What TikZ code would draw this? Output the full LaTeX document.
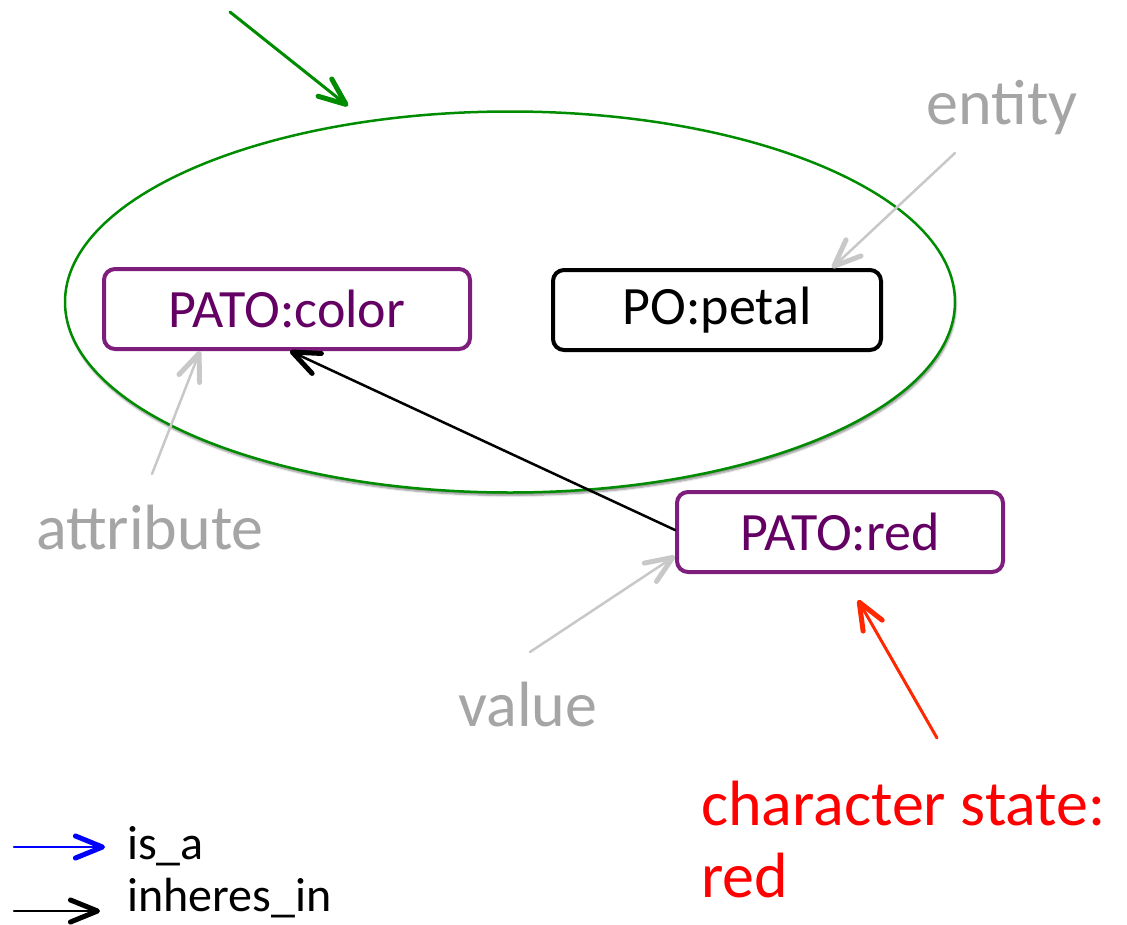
\documentclass[tikz,border=0pt]{standalone}
\usepackage{fontspec}
\setmainfont{Carlito}
\usetikzlibrary{arrows.meta,shadows.blur,shapes.geometric}
\definecolor{boxpurple}{RGB}{125,30,125}
\definecolor{txtpurple}{RGB}{100,0,100}
\definecolor{labgray}{RGB}{165,165,165}
\definecolor{arrgray}{RGB}{200,200,200}
\definecolor{ovalgreen}{RGB}{0,140,0}
\definecolor{redarrow}{RGB}{255,40,0}
\tikzset{
  term/.style={draw, line width=4pt, rounded corners=11pt, minimum height=80pt, font=\fontsize{54}{58}\selectfont, inner sep=0pt},
  pterm/.style={term, draw=boxpurple, text=txtpurple},
  role/.style={text=labgray, font=\fontsize{64}{70}\selectfont, inner sep=0pt},
  pointer/.style={line width=2.5pt, line cap=round, -{Straight Barb[length=27pt,width=22pt,line width=5pt,round]}},
}
\begin{document}
\begin{tikzpicture}[x=1pt,y=-1pt]
\useasboundingbox (0,0) rectangle (1127,924);
% grouping oval
\node (oval) [ellipse, draw=ovalgreen, line width=2.5pt, minimum width=890pt, minimum height=381pt, inner sep=0pt,
  blur shadow={shadow xshift=1pt, shadow yshift=-3pt, shadow blur steps=6, shadow opacity=45}, fill=white] at (510,302) {};
% terms
\node (color) [pterm, minimum width=366pt] at (287,309) {PATO:color};
\node (petal) [term, minimum width=328pt] at (717,310) {PO:petal};
\node (red) [pterm, minimum width=326pt] at (840,532) {PATO:red};
% role labels
\node (entity) [role] at (1002,108) {entity};
\node (attr) [role] at (150,528) {attribute};
\node (value) [role] at (528,705) {value};
\coordinate (entA) at (955,153);
\coordinate (attA) at (152,474);
\coordinate (valA) at (530,652);
\draw[pointer, draw=arrgray] (entA) -- (petal.north east -| 832,270);
\draw[pointer, draw=arrgray] (attA) -- (color.south -| 200,350);
\draw[pointer, draw=arrgray] (valA) -- (red.west |- 677,556);
% inheres_in relation
\draw[pointer, draw=black] (red.west |- 677,530) -- (color.south -| 290,350);
% green pointer onto the oval
\coordinate (gstart) at (230,12);
\coordinate (gend) at (348,106);
\draw[pointer, draw=ovalgreen, line width=3pt] (gstart) -- (gend);
% character state
\coordinate (rstart) at (937,738);
\coordinate (rend) at (858,600);
\draw[pointer, draw=redarrow, line width=3pt] (rstart) -- (rend);
\node (cs) [anchor=west, text=red, font=\fontsize{64}{72}\selectfont, align=left, inner sep=0pt] at (701,839) {character state:\\red};
% legend
\coordinate (l1a) at (14,847);
\coordinate (l1b) at (105,847);
\coordinate (l2a) at (14,911);
\coordinate (l2b) at (100,911);
\draw[pointer, draw=blue] (l1a) -- (l1b);
\draw[pointer, draw=black] (l2a) -- (l2b);
\node (isa) [anchor=west, font=\fontsize{48}{52}\selectfont, inner sep=0pt] at (127,846) {is\_a};
\node (inh) [anchor=west, font=\fontsize{48}{52}\selectfont, inner sep=0pt] at (127,898) {inheres\_in};
\end{tikzpicture}
\end{document}
